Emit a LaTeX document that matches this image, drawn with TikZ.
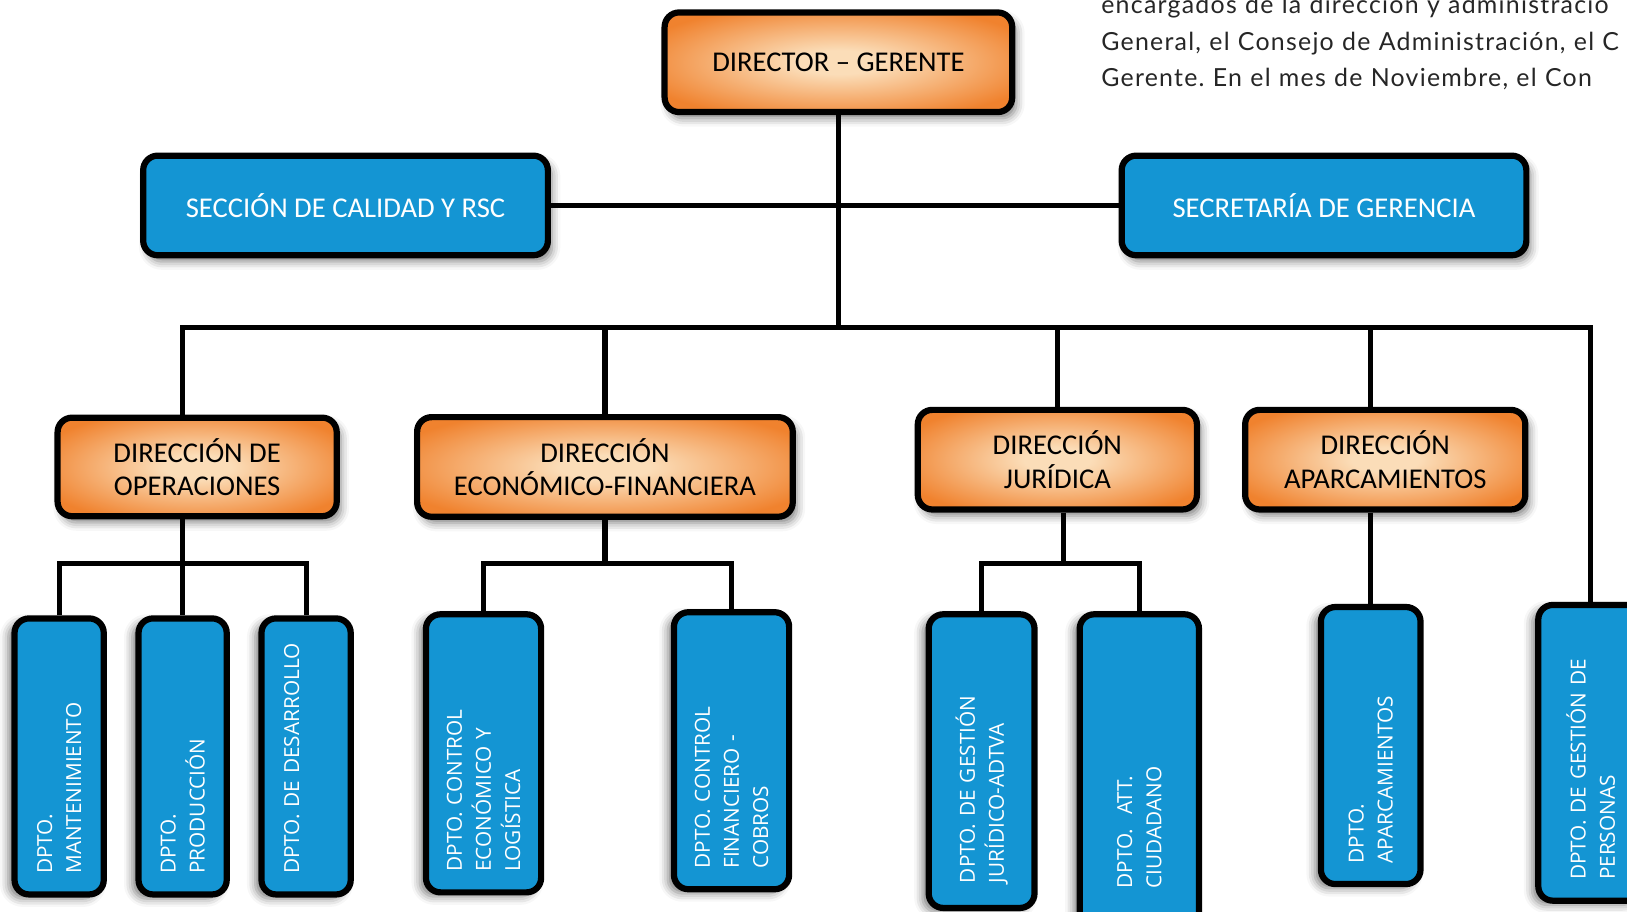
\documentclass[tikz,border=0pt]{standalone}
\usepackage{fontspec}
\setmainfont{Carlito}
\newfontfamily\deptfont{Open Sans}
\newfontfamily\introfont[LetterSpace=5]{Lato}
\usetikzlibrary{shadows.blur}
\definecolor{boxblue}{HTML}{1495D3}
\definecolor{obase}{HTML}{F0822E}
\definecolor{oglow}{HTML}{FBDDB8}
\pgfdeclareradialshading{orangeglow}{\pgfpoint{0bp}{0bp}}{color(0bp)=(oglow); color(6bp)=(oglow); color(30bp)=(obase); color(50bp)=(obase)}
\frenchspacing
\begin{document}
\begin{tikzpicture}[x=0.5pt, y=-0.5pt,
  dirbox/.style={draw, line width=3pt, rounded corners=7pt, shade, shading=orangeglow, text=black, align=center, font=\fontsize{13.8}{16}\selectfont, blur shadow={shadow xshift=2pt, shadow yshift=-3pt, shadow blur radius=4pt, shadow opacity=50}},
  secbox/.style={draw, line width=3pt, rounded corners=7pt, fill=boxblue, text=white, font=\fontsize{13.8}{16}\selectfont, blur shadow={shadow xshift=2pt, shadow yshift=-3pt, shadow blur radius=4pt, shadow opacity=50}},
  deptbox/.style={draw, line width=3pt, rounded corners=7pt, fill=boxblue, text=white, rotate=90, align=left, font=\deptfont\fontsize{10}{14}\selectfont, blur shadow={shadow xshift=-3pt, shadow yshift=-2pt, shadow blur radius=4pt, shadow opacity=50}},
  link/.style={line width=2.5pt}]
  \path[use as bounding box, clip] (0,0) rectangle (1568,878);
  \node[font=\introfont\fontsize{12}{17.6}\selectfont, text=black!85, inner sep=0pt, text width=400pt, align=left, anchor=base west] (intro) at (1061,13) {encargados de la dirección y administració\\General, el Consejo de Administración, el C\\Gerente. En el mes de Noviembre, el Con};
  \node[dirbox, minimum width=167.5pt, minimum height=48pt] (dg) at (808,60) {DIRECTOR – GERENTE};
  \node[secbox, minimum width=195pt, minimum height=48pt] (calidad) at (333,198) {SECCIÓN DE CALIDAD Y RSC};
  \node[secbox, minimum width=195pt, minimum height=48pt] (secretaria) at (1276,198) {SECRETARÍA DE GERENCIA};
  \node[dirbox, minimum width=134.5pt, minimum height=47.5pt] (ops) at (190,450) {DIRECCIÓN DE\\OPERACIONES};
  \node[dirbox, minimum width=181pt, minimum height=48pt] (ef) at (583,450) {DIRECCIÓN\\ECONÓMICO-FINANCIERA};
  \node[dirbox, minimum width=134.5pt, minimum height=48pt] (jur) at (1019,443) {DIRECCIÓN\\JURÍDICA};
  \node[dirbox, minimum width=135pt, minimum height=48pt] (apa) at (1335,443) {DIRECCIÓN\\APARCAMIENTOS};
  \node[deptbox, minimum width=133pt, minimum height=43pt, text width=113pt] (mant) at (57,729) {DPTO.\\MANTENIMIENTO};
  \node[deptbox, minimum width=133pt, minimum height=42.5pt, text width=113pt] (prod) at (176,729) {DPTO.\\PRODUCCIÓN};
  \node[deptbox, minimum width=133pt, minimum height=43pt, text width=113pt] (desa) at (295,729) {DPTO. DE DESARROLLO\\\mbox{}};
  \node[deptbox, minimum width=134pt, minimum height=55.5pt, text width=114pt] (ceco) at (466,726) {DPTO. CONTROL\\ECONÓMICO Y\\LOGÍSTICA};
  \node[deptbox, minimum width=133.5pt, minimum height=55.5pt, text width=113.5pt] (cfin) at (705,723.5) {DPTO. CONTROL\\FINANCIERO -\\COBROS};
  \node[deptbox, minimum width=141.5pt, minimum height=51pt, text width=117.5pt] (gjur) at (946,733.5) {DPTO. DE GESTIÓN\\JURÍDICO-ADTVA};
  \node[deptbox, minimum width=151.5pt, minimum height=57.5pt, text width=112.5pt] (att) at (1098,743.5) {DPTO.\ \ ATT.\\CIUDADANO};
  \node[deptbox, minimum width=133.5pt, minimum height=48pt, text width=113.5pt] (aparc) at (1321,718.5) {DPTO.\\APARCAMIENTOS};
  \node[deptbox, minimum width=142.5pt, minimum height=50.5pt, text width=122.5pt] (pers) at (1533,725.5) {DPTO. DE GESTIÓN DE\\PERSONAS};
  \coordinate (hub) at (808,316);
  \coordinate (opsbar) at (176,543);
  \coordinate (efbar) at (584,543);
  \coordinate (jurbar) at (1025,543);
  \draw[link] (dg) -- (hub);
  \draw[link] (calidad) -- (secretaria);
  \draw[link] (prod.east |- ops.north) -- (prod.east |- hub) -- (pers.east |- hub) -- (pers.east);
  \draw[link] (ef.north) -- (ef.north |- hub);
  \draw[link] (jur.north) -- (jur.north |- hub);
  \draw[link] (aparc.east |- apa.north) -- (aparc.east |- hub);
  \draw[link] (opsbar |- ops.south) -- (prod.east);
  \draw[link] (mant.east) |- (opsbar) -| (desa.east);
  \draw[link] (ef.south) -- (ef.south |- efbar);
  \draw[link] (ceco.east) |- (efbar) -| (cfin.east);
  \draw[link] (jurbar |- jur.south) -- (jurbar);
  \draw[link] (gjur.east) |- (jurbar) -| (att.east);
  \draw[link] (apa.south -| aparc.east) -- (aparc.east);
\end{tikzpicture}
\end{document}
